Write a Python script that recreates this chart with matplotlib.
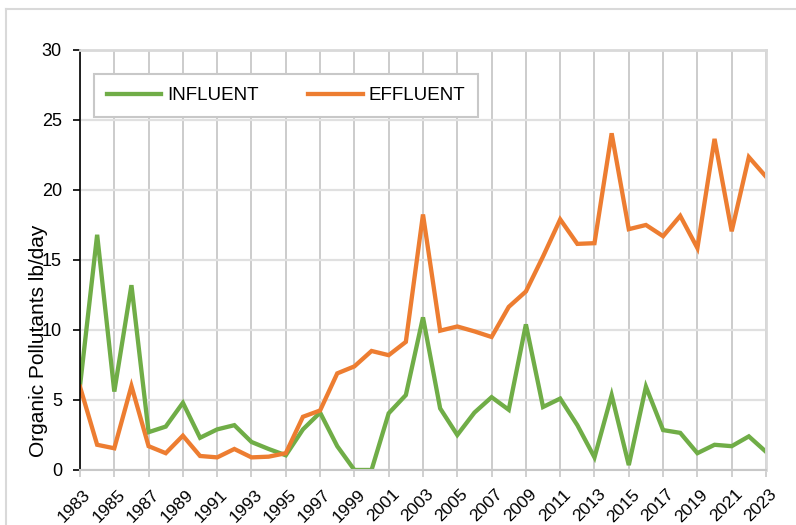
import matplotlib
matplotlib.use('Agg')
import matplotlib.pyplot as plt
import matplotlib.transforms as mtransforms
from matplotlib.lines import Line2D

plt.rcParams['font.family'] = ['Liberation Sans', 'DejaVu Sans']

years = list(range(1983, 2024))

influent = [6.0, 16.8, 5.6, 13.2, 2.7, 3.1, 4.8, 2.3, 2.9, 3.2,
            2.0, 1.5, 1.05, 2.9, 4.1, 1.7, 0.0, 0.0, 4.05, 5.35,
            10.9, 4.4, 2.5, 4.1, 5.2, 4.3, 10.4, 4.5, 5.1, 3.2,
            0.9, 5.35, 0.35, 5.95, 2.85, 2.65, 1.2, 1.8, 1.7, 2.4,
            1.3]

effluent = [5.95, 1.8, 1.55, 6.0, 1.7, 1.2, 2.45, 1.0, 0.9, 1.5,
            0.9, 0.95, 1.2, 3.8, 4.25, 6.9, 7.4, 8.5, 8.2, 9.15,
            18.25, 9.95, 10.25, 9.9, 9.5, 11.65, 12.75, 15.25, 17.9, 16.15,
            16.2, 24.05, 17.2, 17.5, 16.7, 18.15, 15.85, 23.65, 17.05, 22.35,
            20.95]

fig = plt.figure(figsize=(7.96, 5.25), dpi=100)
ax = fig.add_axes([0.1005, 0.1048, 0.8618, 0.8])

# outer chart frame (only left and top are visible in the crop)
fig.add_artist(Line2D([6/796, 6/796], [-0.1, 1 - 9/525], transform=fig.transFigure,
                      color='#d9d9d9', lw=1.5))
fig.add_artist(Line2D([6/796, 1.1], [1 - 9/525, 1 - 9/525], transform=fig.transFigure,
                      color='#d9d9d9', lw=1.5))

ax.plot(years, influent, color='#70AD47', lw=3.1, label='INFLUENT', solid_joinstyle='miter')
ax.plot(years, effluent, color='#ED7D31', lw=3.1, label='EFFLUENT', solid_joinstyle='miter')

ax.set_xlim(1983, 2023)
ax.set_ylim(0, 30)
ax.set_xticks(range(1983, 2024, 2))
ax.set_yticks(range(0, 31, 5))
ax.set_xticklabels([str(y) for y in range(1983, 2024, 2)], rotation=45,
                   ha='right', rotation_mode='anchor', fontsize=12.5)
ax.tick_params(axis='y', labelsize=13, length=5, width=1.2, color='black', pad=8)
ax.tick_params(axis='x', length=5, width=1.2, color='#c8c8c8', pad=7)

# nudge the rotated year labels a little to the right
shift = mtransforms.ScaledTranslation(3/100, 0, fig.dpi_scale_trans)
for lbl in ax.get_xticklabels():
    lbl.set_transform(lbl.get_transform() + shift)

ax.grid(axis='x', color='#c8c8c8', lw=1.3)
ax.grid(axis='y', color='#e0e0e0', lw=1.6)
ax.set_axisbelow(True)

ax.spines['left'].set_color('black')
ax.spines['left'].set_linewidth(1.2)
ax.spines['bottom'].set_color('#c8c8c8')
ax.spines['bottom'].set_linewidth(1.5)
for s in ['top', 'right']:
    ax.spines[s].set_color('#d9d9d9')
    ax.spines[s].set_linewidth(2)

ax.set_ylabel('Organic Pollutants lb/day', fontsize=15)
ax.yaxis.set_label_coords(-0.047, 0.308)

leg = ax.legend(loc='upper left', bbox_to_anchor=(0.0204, 0.8333, 0.56, 0.1095),
                mode='expand', ncol=2, fontsize=13.5, handlelength=2.9,
                handletextpad=0.3, columnspacing=1.6, fancybox=False,
                framealpha=1, edgecolor='#c8c8c8', borderpad=0.7,
                borderaxespad=0)
leg.get_frame().set_linewidth(1.5)

plt.savefig('out.png', dpi=100)
